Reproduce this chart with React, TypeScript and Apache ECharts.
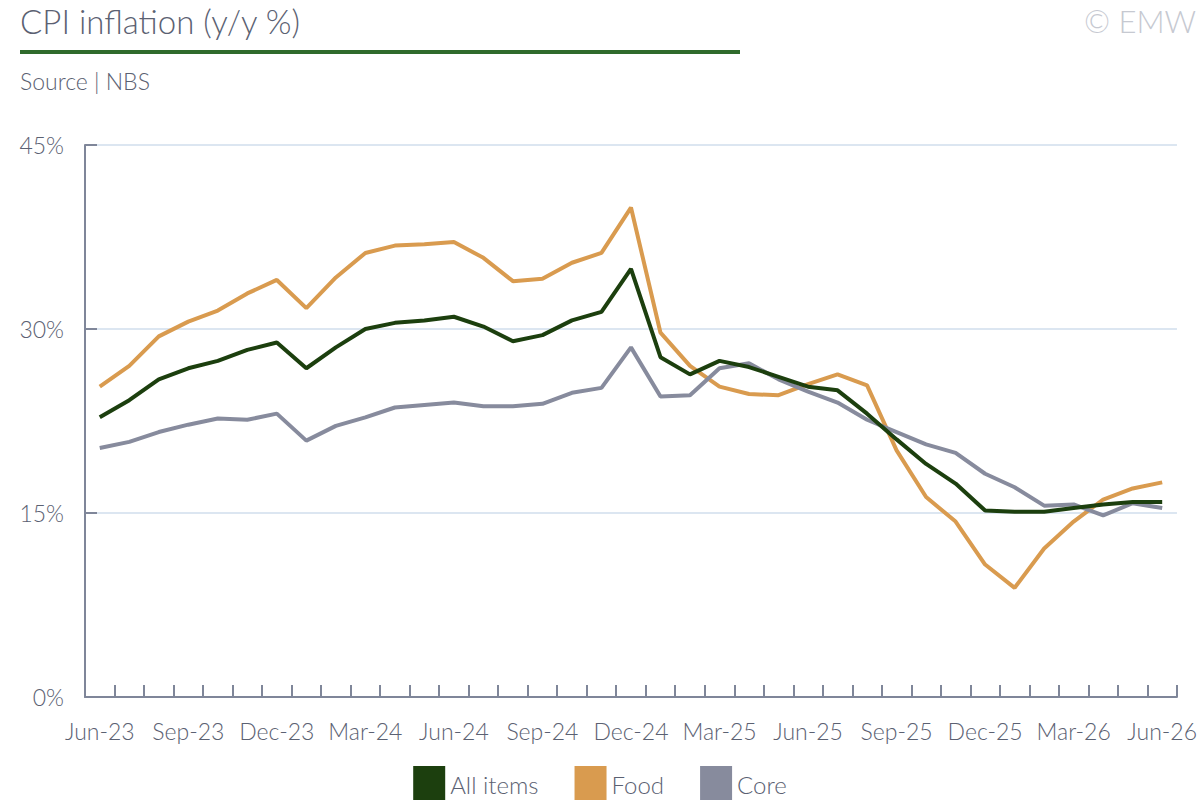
import React, { useEffect, useRef } from "react";
import * as echarts from "echarts";

const categories = [
  "Jun-23", "Jul-23", "Aug-23", "Sep-23", "Oct-23", "Nov-23", "Dec-23",
  "Jan-24", "Feb-24", "Mar-24", "Apr-24", "May-24", "Jun-24", "Jul-24",
  "Aug-24", "Sep-24", "Oct-24", "Nov-24", "Dec-24", "Jan-25", "Feb-25",
  "Mar-25", "Apr-25", "May-25", "Jun-25", "Jul-25", "Aug-25", "Sep-25",
  "Oct-25", "Nov-25", "Dec-25", "Jan-26", "Feb-26", "Mar-26", "Apr-26",
  "May-26", "Jun-26",
];

const allItems = [
  22.8, 24.2, 25.9, 26.8, 27.4, 28.3, 28.9, 26.8, 28.5, 30.0, 30.5, 30.7,
  31.0, 30.2, 29.0, 29.5, 30.7, 31.4, 34.9, 27.7, 26.3, 27.4, 26.9, 26.1,
  25.3, 25.0, 23.1, 21.0, 19.0, 17.4, 15.2, 15.1, 15.1, 15.4, 15.7, 15.9,
  15.9,
];

const food = [
  25.3, 27.0, 29.4, 30.6, 31.5, 32.9, 34.0, 31.7, 34.2, 36.2, 36.8, 36.9,
  37.1, 35.8, 33.9, 34.1, 35.4, 36.2, 39.9, 29.7, 27.0, 25.3, 24.7, 24.6,
  25.5, 26.3, 25.4, 20.1, 16.3, 14.3, 10.8, 8.9, 12.1, 14.3, 16.1, 17.0,
  17.5,
];

const core = [
  20.3, 20.8, 21.6, 22.2, 22.7, 22.6, 23.1, 20.9, 22.1, 22.8, 23.6, 23.8,
  24.0, 23.7, 23.7, 23.9, 24.8, 25.2, 28.5, 24.5, 24.6, 26.8, 27.2, 25.9,
  24.9, 24.0, 22.6, 21.6, 20.6, 19.9, 18.2, 17.1, 15.6, 15.7, 14.8, 15.8,
  15.4,
];

const FONT = "Lato, 'Noto Sans', sans-serif";
const TEXT = "#5b6172";
const AXIS = "#7f8699";

export default function App() {
  const ref = useRef<HTMLDivElement>(null);

  useEffect(() => {
    if (!ref.current) return;
    const chart = echarts.init(ref.current, null, { renderer: "svg" });
    const mk = (name: string, data: number[], color: string) => ({
      name,
      type: "line",
      data,
      showSymbol: false,
      symbol: "none",
      lineStyle: { color, width: 4 },
      itemStyle: { color },
      z: name === "All items" ? 3 : 2,
    });
    chart.setOption({
      animation: false,
      backgroundColor: "#ffffff",
      textStyle: { fontFamily: FONT },
      graphic: [
        {
          type: "text",
          left: 20,
          top: 4,
          style: { text: "CPI inflation (y/y %)", fill: TEXT, font: `300 33px ${FONT}` },
        },
        {
          type: "rect",
          shape: { x: 20, y: 50, width: 720, height: 4 },
          style: { fill: "#2f6b2c" },
        },
        {
          type: "text",
          left: 20,
          top: 69,
          style: { text: "Source | NBS", fill: TEXT, font: `300 23px ${FONT}` },
        },
        {
          type: "text",
          left: 1084,
          top: 5,
          style: { text: "© EMW", fill: "#c6c9d1", font: `300 31px ${FONT}` },
        },
      ],
      legend: {
        top: 761,
        left: "center",
        icon: "rect",
        itemWidth: 32,
        itemHeight: 36,
        itemGap: 36,
        textStyle: { color: TEXT, fontSize: 24, fontFamily: FONT, fontWeight: 300 },
        data: ["All items", "Food", "Core"],
      },
      grid: { left: 85, right: 20, top: 145, bottom: 103, containLabel: false },
      xAxis: {
        type: "category",
        data: categories,
        boundaryGap: true,
        axisLine: { show: true, lineStyle: { color: AXIS, width: 2 } },
        axisTick: { show: true, inside: true, length: 12, interval: 0, lineStyle: { color: AXIS, width: 2 } },
        axisLabel: { interval: 2, color: TEXT, fontSize: 23, fontWeight: 300, fontFamily: FONT, margin: 22 },
        splitLine: { show: false },
      },
      yAxis: {
        type: "value",
        min: 0,
        max: 45,
        interval: 15,
        axisLine: { show: true, lineStyle: { color: AXIS, width: 2 } },
        axisTick: { show: true, inside: true, length: 12, lineStyle: { color: AXIS, width: 2 } },
        axisLabel: { formatter: "{value}%", color: TEXT, fontSize: 23, fontWeight: 300, fontFamily: FONT, margin: 21 },
        splitLine: { show: true, lineStyle: { color: "#dce6f1", width: 2 } },
      },
      series: [
        mk("All items", allItems, "#1c3f0e"),
        mk("Food", food, "#d99b4f"),
        mk("Core", core, "#878b9d"),
      ],
    });
    return () => chart.dispose();
  }, []);

  return (
    <div
      ref={ref}
      style={{ position: "fixed", left: 0, top: 0, width: 1200, height: 800 }}
    />
  );
}
